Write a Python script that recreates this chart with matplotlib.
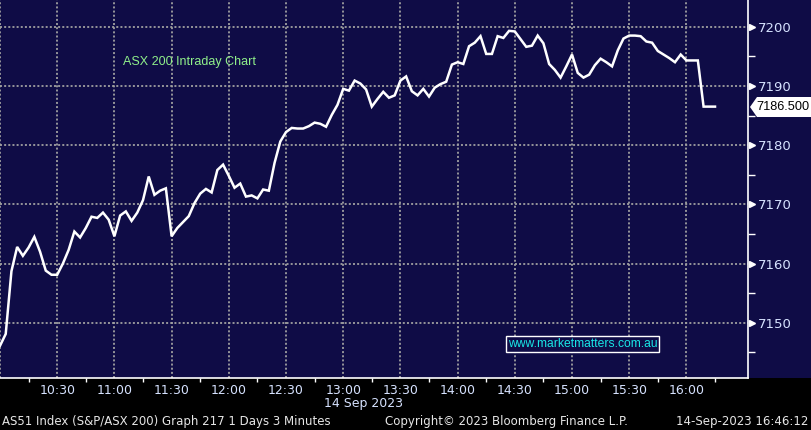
import matplotlib
matplotlib.use("Agg")
import matplotlib.pyplot as plt
import matplotlib.transforms as mtransforms
from matplotlib.patches import Rectangle, Polygon
from matplotlib.ticker import FixedLocator, NullFormatter

# ---- data (3-minute bars from 10:00) ----
start_minutes = 0          # 10:00
step_minutes = 3
prices = [
    7146.1, 7148.1, 7158.7, 7162.8, 7161.3, 7162.7, 7164.5, 7162.0, 7158.8, 7158.1,
    7158.1, 7160.0, 7162.3, 7165.4, 7164.4, 7166.0, 7167.9, 7167.7, 7168.6, 7167.4,
    7164.6, 7168.1, 7168.8, 7167.2, 7168.6, 7170.7, 7174.7, 7171.6, 7172.3, 7172.7,
    7164.6, 7166.0, 7167.0, 7168.0, 7170.2, 7171.8, 7172.6, 7172.0, 7175.8, 7176.7,
    7174.8, 7172.8, 7173.5, 7171.3, 7171.5, 7171.0, 7172.5, 7172.3, 7177.0, 7180.6,
    7182.2, 7182.9, 7182.8, 7182.8, 7183.2, 7183.8, 7183.6, 7183.1, 7185.1, 7186.8,
    7189.5, 7189.2, 7190.9, 7190.4, 7189.4, 7186.5, 7187.8, 7189.0, 7188.0, 7188.4,
    7190.9, 7191.6, 7189.1, 7188.4, 7189.5, 7188.2, 7189.7, 7190.3, 7190.7, 7193.6,
    7194.0, 7193.7, 7196.7, 7197.3, 7198.4, 7195.4, 7195.4, 7198.4, 7198.1, 7199.3,
    7199.2, 7197.9, 7196.6, 7196.8, 7198.5, 7197.2, 7193.7, 7192.7, 7191.4, 7193.3,
    7195.3, 7192.2, 7191.4, 7191.9, 7193.5, 7194.6, 7194.0, 7193.3, 7196.0, 7198.0,
    7198.5, 7198.5, 7198.4, 7197.5, 7197.3, 7195.9, 7195.3, 7194.7, 7194.0, 7195.3,
    7194.3, 7194.3, 7194.3, 7186.5, 7186.5, 7186.5,
]
last_price = 7186.5
x_tick_minutes = [30, 60, 90, 120, 150, 180, 210, 240, 270, 300, 330, 360]
x_tick_labels = ["10:30", "11:00", "11:30", "12:00", "12:30", "13:00", "13:30",
                 "14:00", "14:30", "15:00", "15:30", "16:00"]
y_ticks = [7150, 7160, 7170, 7180, 7190, 7200]
y_minor = [7145, 7155, 7165, 7175, 7185, 7195]

minutes = [start_minutes + i * step_minutes for i in range(len(prices))]

W, H = 811, 430
NAVY = "#0f0c46"
LABEL_COL = "#d6e2ff"
fig = plt.figure(figsize=(W / 100, H / 100), dpi=100, facecolor="black")

def fx(px):
    return px / W

def fy(py):
    return 1 - py / H

plot_right = 748
plot_bottom = 378
# right strip navy background (drawn beneath the axes)
fig.patches.append(Rectangle((fx(plot_right), fy(plot_bottom)), 1 - fx(plot_right),
                             plot_bottom / H, transform=fig.transFigure,
                             facecolor=NAVY, edgecolor="none", zorder=-5))

ax = fig.add_axes([0, fy(plot_bottom), fx(plot_right), plot_bottom / H])
ax.set_facecolor(NAVY)

ax.plot(minutes, prices, color="white", lw=1.8, solid_joinstyle="miter", zorder=3)

ax.set_xlim(0, 392.3)
ax.set_ylim(7140.66, 7204.51)

# gridlines
grid_kw = dict(color="#a0a0a0", lw=1.3, linestyle=(0, (1.1, 1.2)), zorder=1)
for xm in [0] + x_tick_minutes:
    ax.axvline(xm, **grid_kw)
for yv in y_ticks:
    ax.axhline(yv, **grid_kw)

# spines
for s in ["top", "left"]:
    ax.spines[s].set_visible(False)
ax.spines["right"].set_color("white")
ax.spines["right"].set_linewidth(1.2)
ax.spines["bottom"].set_color("white")
ax.spines["bottom"].set_linewidth(1.2)

# x ticks
ax.xaxis.set_major_locator(FixedLocator(x_tick_minutes))
ax.set_xticklabels(x_tick_labels)
ax.xaxis.set_minor_locator(FixedLocator([m + 15 for m in [0] + x_tick_minutes]))
ax.xaxis.set_minor_formatter(NullFormatter())
ax.tick_params(axis="x", which="major", length=0, pad=4, labelsize=9,
               labelcolor=LABEL_COL)
ax.tick_params(axis="x", which="minor", length=3, width=1, color="white")

# y ticks on right
ax.yaxis.tick_right()
ax.yaxis.set_major_locator(FixedLocator(y_ticks))
ax.set_yticklabels([str(v) for v in y_ticks])
ax.yaxis.set_minor_locator(FixedLocator(y_minor))
ax.yaxis.set_minor_formatter(NullFormatter())
ax.tick_params(axis="y", which="major", length=0, pad=7, labelsize=9.5,
               labelcolor=LABEL_COL)
ax.tick_params(axis="y", which="minor", length=5, width=1, color="white", direction="out")

# triangle markers for major y ticks
trans = mtransforms.blended_transform_factory(ax.transAxes, ax.transData)
tri_off = mtransforms.offset_copy(trans, fig=fig, x=4, y=0, units="dots")
ax.plot([1.0] * len(y_ticks), y_ticks, linestyle="none", marker=">", markersize=5,
        color="white", transform=tri_off, clip_on=False, zorder=5)

# last price label
poly = Polygon([(fx(750), fy(107)), (fx(757), fy(97)), (fx(811), fy(97)),
                (fx(811), fy(117)), (fx(757), fy(117))], closed=True,
               transform=fig.transFigure, facecolor="white", edgecolor="none", zorder=6)
fig.patches.append(poly)
fig.text(fx(783), fy(107.5), f"{last_price:.3f}", color="black", fontsize=9.2,
         family="Liberation Sans", ha="center", va="center", zorder=7)

# titles and annotations
ax.text(fx(123) / fx(plot_right), 1 - 62 / plot_bottom, "ASX 200 Intraday Chart",
        transform=ax.transAxes, color="#8ff08a", fontsize=9,
        family="Liberation Sans", ha="left", va="center", zorder=4)
ax.text(582.5 / plot_right, 1 - 344 / plot_bottom, "www.marketmatters.com.au",
        transform=ax.transAxes, color="#19e6e6", fontsize=8.7,
        family="Liberation Sans", ha="center", va="center", zorder=4,
        bbox=dict(boxstyle="square,pad=0.15", facecolor=NAVY, edgecolor="white", lw=1))

# date under axis
fig.text(fx(363.5), fy(404), "14 Sep 2023", color=LABEL_COL, fontsize=9,
         ha="center", va="center")

# footer
foot_col = "#e6e6e6"
fig.text(fx(2), fy(422), "AS51 Index (S&P/ASX 200) Graph 217 1 Days 3 Minutes",
         color=foot_col, fontsize=8.5, ha="left", va="center")
fig.text(fx(385), fy(422), "Copyright\u00a9 2023 Bloomberg Finance L.P.",
         color=foot_col, fontsize=8.5, ha="left", va="center")
fig.text(fx(808), fy(422), "14-Sep-2023 16:46:12",
         color=foot_col, fontsize=8.5, ha="right", va="center")

fig.savefig("out.png", dpi=100, facecolor="black")
